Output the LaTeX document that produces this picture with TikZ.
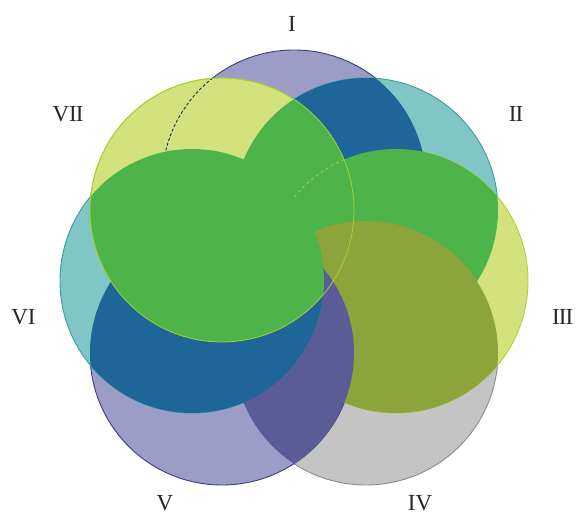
\documentclass[tikz,border=0pt]{standalone}
\usepackage{fontspec}
\setmainfont{Liberation Serif}
\definecolor{lpurple}{HTML}{9C9CC6}
\definecolor{lteal}{HTML}{80C6C6}
\definecolor{lyellow}{HTML}{D4E27E}
\definecolor{lgrey}{HTML}{C4C4C4}
\definecolor{dblue}{HTML}{1F6698}
\definecolor{vgreen}{HTML}{4DB449}
\definecolor{volive}{HTML}{8DA33B}
\definecolor{dpurple}{HTML}{5B5B97}
\definecolor{opurple}{HTML}{3C3C80}
\definecolor{oteal}{HTML}{3A9C9C}
\definecolor{oyellow}{HTML}{B5CC3C}
\definecolor{ogrey}{HTML}{8C8C8C}
\begin{document}
\begin{tikzpicture}[x=1pt,y=1pt,
  lab/.style={font=\fontsize{23}{23}\selectfont, text=black!85, inner sep=0pt},
  rim/.style={line width=0.9pt}]
\useasboundingbox (0,0) rectangle (576,518);
\def\cirA{(294,336) circle[radius=132]}
\def\cirB{(366,308) circle[radius=132]}
\def\cirC{(396,237) circle[radius=132]}
\def\cirD{(366,165) circle[radius=132]}
\def\cirE{(222,165) circle[radius=132]}
\def\cirF{(192,237) circle[radius=132]}
\def\cirG{(222,308) circle[radius=132]}
% light circles
\filldraw[fill=lpurple, draw=opurple, rim] \cirA;
\filldraw[fill=lteal, draw=oteal, rim] \cirB;
\filldraw[fill=lgrey, draw=ogrey, rim] \cirD;
\filldraw[fill=lpurple, draw=opurple, rim] \cirE;
\filldraw[fill=lteal, draw=oteal, rim] \cirF;
\filldraw[fill=lyellow, draw=oyellow, rim] \cirC;
\filldraw[fill=lyellow, draw=oyellow, rim] \cirG;
% dashed outline of I inside VII
\draw[opurple!60!black, line width=0.9pt, dash pattern=on 3pt off 2pt]
  (294,336) ++(128:132) arc[start angle=128, end angle=167, radius=132];
% composites
\begin{scope}\clip \cirA; \fill[dblue] \cirB; \end{scope}
\begin{scope}\clip \cirB; \fill[vgreen] \cirC; \fill[vgreen] \cirG; \end{scope}
\begin{scope}\clip \cirD; \fill[volive] \cirC; \end{scope}
\begin{scope}\clip \cirD; \fill[dpurple] \cirE; \end{scope}
\begin{scope}\clip \cirF; \fill[vgreen] \cirC; \end{scope}
\begin{scope}\clip \cirE; \fill[dblue] \cirF; \end{scope}
\begin{scope}\clip \cirF; \fill[vgreen] \cirG; \end{scope}
% outlines on top
\draw[oyellow!90!green, line width=0.8pt] \cirG;
\draw[oyellow!90!green, line width=0.9pt, dash pattern=on 3pt off 3pt]
  (396,237) ++(113:132) arc[start angle=113, end angle=141, radius=132];
% labels
\node[lab, anchor=base] (lI) at (292,486) {I};
\node[lab, anchor=base] (lII) at (516,396.5) {I\kern-1pt I};
\node[lab, anchor=base west] (lIII) at (552,193) {I\kern-1pt I\kern-1pt I};
\node[lab, anchor=base] (lIV) at (420,7) {IV};
\node[lab, anchor=base] (lV) at (165,7) {V};
\node[lab, anchor=base] (lVI) at (23.5,193) {VI};
\node[lab, anchor=base] (lVII) at (68,396.5) {VI\kern-1pt I};
\end{tikzpicture}
\end{document}
